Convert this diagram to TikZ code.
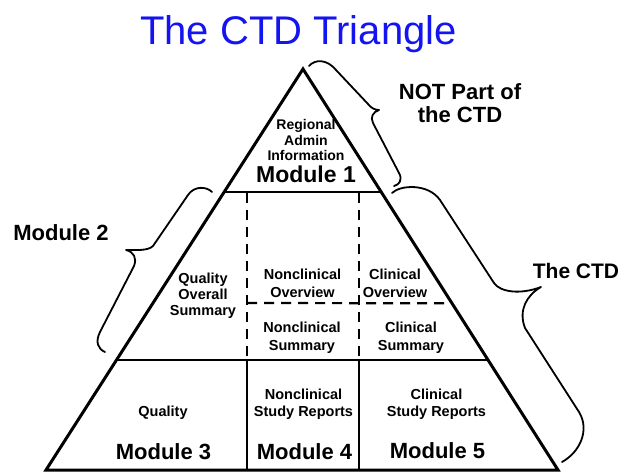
\documentclass[tikz,border=0pt]{standalone}
\usepackage{fontspec}
\setmainfont{Liberation Sans}
\usetikzlibrary{calc}
\definecolor{titleblue}{RGB}{20,20,240}
\tikzset{
  small/.style={font=\bfseries\fontsize{14.5}{18}\selectfont, align=center, inner sep=0pt},
  tiny/.style={font=\bfseries\fontsize{14}{15.5}\selectfont, align=center, inner sep=0pt},
  big/.style={font=\bfseries\fontsize{22}{24}\selectfont, inner sep=0pt, anchor=base},
  brace/.style={line width=1.8pt, line cap=round, line join=round},
  split/.style={line width=2.2pt, dash pattern=on 10pt off 7pt}
}
\begin{document}
\begin{tikzpicture}[x=1pt,y=-1pt]
\useasboundingbox (0,0) rectangle (624,473);
\node[font=\fontsize{40}{44}\selectfont, text=titleblue, anchor=base, inner sep=0pt] (title) at (298.5,45) {The CTD Triangle};
% triangle and its rows
\coordinate (apex) at (303,69);
\coordinate (bl) at (46,470);
\coordinate (br) at (558,470);
\coordinate (l1) at ($(apex)!0.3067!(bl)$);
\coordinate (r1) at ($(apex)!0.3067!(br)$);
\coordinate (r2) at ($(apex)!0.5843!(br)$);
\coordinate (l3) at ($(apex)!0.7257!(bl)$);
\coordinate (r3) at ($(apex)!0.7257!(br)$);
\draw[line width=3pt] (apex)--(bl)--(br)--cycle;
\draw[line width=2.6pt] (l1)--(r1);
\draw[line width=2.2pt] (l3)--(r3);
\draw[line width=2.2pt] (247,360)--(247,470) (359,360)--(359,470);
\draw[split] (247,193)--(247,360) (359,193)--(359,360);
\draw[split] (247,303)--(r2);
% texts in the triangle
\node[tiny] (m1txt) at (306,140) {Regional\\Admin\\Information};
\node[big, font=\bfseries\fontsize{23}{24}\selectfont] (m1) at (306,183) {Module 1};
\node[small, font=\bfseries\fontsize{14.5}{16}\selectfont] (qos) at (203,296) {Quality\\Overall\\Summary};
\node[small] (nco) at (302.5,283) {Nonclinical\\Overview};
\node[small] (co) at (395,283) {Clinical\\Overview};
\node[small] (ncs) at (302,338) {Nonclinical\\Summary};
\node[small] (cs) at (411,338) {Clinical\\Summary};
\node[small] (q) at (163,413) {Quality};
\node[small, font=\bfseries\fontsize{14.5}{17}\selectfont] (ncsr) at (303.5,404) {Nonclinical\\Study Reports};
\node[small, font=\bfseries\fontsize{14.5}{17}\selectfont] (csr) at (436.5,404) {Clinical\\Study Reports};
\node[big] (m3) at (163.5,459) {Module 3};
\node[big] (m4) at (304.5,459) {Module 4};
\node[big] (m5) at (437.5,458) {Module 5};
% braces and their labels
\draw[brace] (309,66) .. controls (315,59) and (327,59) .. (336,70) -- (368,104)
  .. controls (371,108) and (375,110) .. (379,110)
  .. controls (373,112) and (370,117) .. (373,123) -- (399,173)
  .. controls (403,180) and (399,185) .. (394,186);
\node[big] (notctd1) at (460,100) {NOT Part of};
\node[big] (notctd2) at (460,122.5) {the CTD};
\draw[brace] (212,192) .. controls (206,186) and (194,186) .. (188,195) -- (153,246)
  .. controls (148,251) and (136,250) .. (126,250)
  .. controls (134,252) and (137,258) .. (134,266) -- (100,332)
  .. controls (95,342) and (98,349) .. (105,352);
\node[big] (m2) at (61,240.7) {Module 2};
\draw[brace] (392,193) .. controls (400,185) and (428,183) .. (440,200) -- (494,283)
  .. controls (500,292) and (520,295) .. (541,287)
  .. controls (527,295) and (518,310) .. (525,328) -- (579,412)
  .. controls (590,430) and (580,452) .. (562,462);
\node[big, font=\bfseries\fontsize{21}{24}\selectfont] (ctd) at (576,279) {The CTD};
\end{tikzpicture}
\end{document}
